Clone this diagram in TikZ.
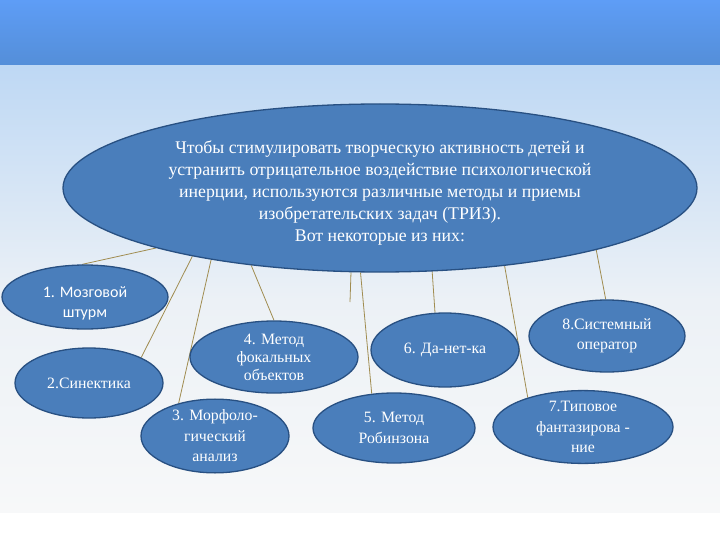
\documentclass[tikz,border=0pt]{standalone}
\usepackage{fontspec}
\setmainfont{Liberation Serif}
\newfontfamily\calib{Carlito}
\usetikzlibrary{shapes.geometric}
\pgfdeclarelayer{bg}
\pgfsetlayers{bg,main}
\definecolor{topA}{RGB}{94,157,246}
\definecolor{topB}{RGB}{84,142,216}
\definecolor{bgA}{RGB}{190,216,244}
\definecolor{bgB}{RGB}{236,241,246}
\definecolor{bgC}{RGB}{247,248,249}
\definecolor{ellfill}{RGB}{74,126,187}
\definecolor{elldraw}{RGB}{40,80,130}
\definecolor{linkc}{RGB}{160,140,80}
\begin{document}
\begin{tikzpicture}[x=1pt,y=-1pt,
  bubble/.style={ellipse, fill=ellfill, draw=elldraw, line width=1.3pt, text=white,
    inner sep=0pt, align=center, font=\fontsize{15.8}{20.5}\selectfont},
  label text/.style={text=white, inner sep=0pt, align=center},
  link/.style={draw=linkc, line width=0.8pt}]
\useasboundingbox (0,0) rectangle (720,540);
\begin{pgfonlayer}{bg}
\fill[white] (0,0) rectangle (720,540);
\shade[top color=topA,bottom color=topB] (0,0) rectangle (720,66);
\shade[top color=bgA,bottom color=bgB] (0,66) rectangle (720,300);
\shade[top color=bgB,bottom color=bgC] (0,300) rectangle (720,512);
\end{pgfonlayer}

\node[bubble, minimum width=634pt, minimum height=168pt] (main) at (380,188) {};
\node[label text, font=\fontsize{17.8}{22}\selectfont] (maintext) at (380,193)
  {Чтобы стимулировать творческую активность детей и\\устранить отрицательное воздействие психологической\\инерции, используются различные методы и приемы\\изобретательских задач (ТРИЗ).\\Вот некоторые из них:};

\node[bubble, minimum width=166pt, minimum height=64pt] (n1) at (85,297) {};
\node[label text, font=\calib\fontsize{16}{20}\selectfont] (n1text) at (85,303) {1. Мозговой\\штурм};
\node[bubble, minimum width=148pt, minimum height=70pt] (n2) at (89,383) {2.Синектика};
\node[bubble, minimum width=148pt, minimum height=72pt] (n3) at (215,436) {3. Морфоло-\\гический\\анализ};
\node[bubble, minimum width=168pt, minimum height=72pt, font=\fontsize{15.8}{18}\selectfont] (n4) at (274,357) {4. Метод\\фокальных\\объектов};
\node[bubble, minimum width=162pt, minimum height=70pt] (n5) at (394,428) {5. Метод\\Робинзона};
\node[bubble, minimum width=148pt, minimum height=74pt] (n6) at (445,350) {6. Да-нет-ка};
\node[bubble, minimum width=180pt, minimum height=70pt] (n7) at (583,427) {7.Типовое\\фантазирова -\\ние};
\node[bubble, minimum width=156pt, minimum height=72pt] (n8) at (607,336) {8.Системный\\оператор};

\coordinate (stray) at (350,302);

\begin{pgfonlayer}{bg}
\draw[link] (main.195.9) -- (n1.95);
\draw[link] (main.200.5) -- (n2.26);
\draw[link] (main.203.1) -- (n3.138);
\draw[link] (main.211.8) -- (n4.90);
\draw[link] (main.251.4) -- (stray);
\draw[link] (main.257.3) -- (n5.123);
\draw[link] (main.302.9) -- (n6.105);
\draw[link] (main.328.4) -- (n7.152);
\draw[link] (main.344.5) -- (n8.92);
\end{pgfonlayer}
\end{tikzpicture}
\end{document}
